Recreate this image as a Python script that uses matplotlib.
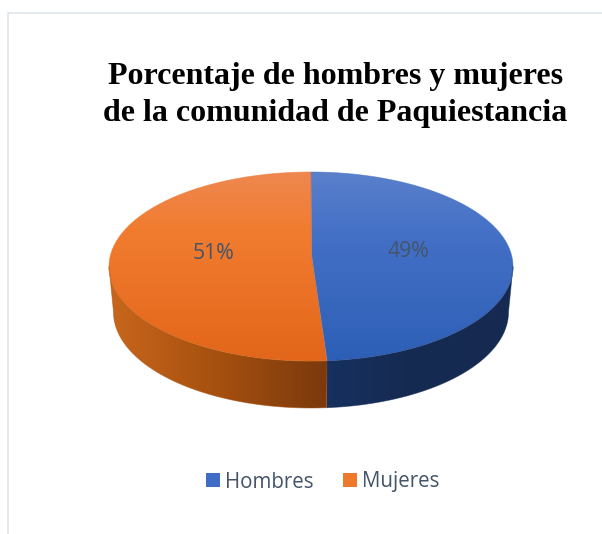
import numpy as np
from matplotlib import pyplot as plt
from matplotlib.colors import LinearSegmentedColormap
from matplotlib.patches import Patch, Polygon
from matplotlib.lines import Line2D

categories = ['Hombres', 'Mujeres']
values = [49, 51]
labels = ['49%', '51%']
title = 'Porcentaje de hombres y mujeres\nde la comunidad de Paquiestancia'

legend_colors = ['#3f6cc4', '#f0782d']
top_stops = [[(0, '#5a80ca'), (0.3, '#4571c7'), (1, '#2d5fb6')],
             [(0, '#ee8850'), (0.3, '#f17c30'), (1, '#e3661a')]]
side_stops = [[(0, '#16305f'), (0.5, '#152a50'), (1, '#172b52')],
              [(0, '#c9661c'), (0.5, '#a5500f'), (1, '#7b390c')]]
text_color = '#44546a'

# pixel geometry of the pie, y goes down
cx, cy, rx, ry = 311, 266.5, 202, 94.5
bx, by, brx, bry = 311, 312, 197.5, 96
apex = (311.5, 255)
skew = -0.94  # the picture has some perspective, the split sits a little off


def arc(a0, a1, x0, y0, w, h):
    # angles in degrees, clockwise from the top
    t = np.radians(np.linspace(a0, a1, 200))
    return np.column_stack([x0 + w * np.sin(t), y0 - h * np.cos(t)])


def gradient(ax, poly, stops, vertical=True):
    box = poly.min(axis=0), poly.max(axis=0)
    cmap = LinearSegmentedColormap.from_list('g', stops)
    g = np.linspace(0, 1, 256)
    g = g.reshape(-1, 1) if vertical else g.reshape(1, -1)
    patch = Polygon(poly, closed=True, fc='none', ec='none')
    ax.add_patch(patch)
    im = ax.imshow(g, cmap=cmap, aspect='auto', origin='upper', zorder=2,
                   extent=(box[0][0], box[1][0], box[1][1], box[0][1]))
    im.set_clip_path(patch)
    # thin edge to smooth the clipped border
    ax.add_patch(Polygon(poly, closed=True, fc='none', ec=stops[1][1], lw=0.6,
                         alpha=0.55, zorder=3))


fig = plt.figure(figsize=(6.02, 5.34), dpi=100)
ax = fig.add_axes([0, 0, 1, 1])

split = values[0] / sum(values) * 360 + skew

# sides
seam_top = arc(split, split, cx, cy, rx, ry)[0]
right = np.vstack([arc(90, split, cx, cy, rx, ry), [[seam_top[0], by + bry * 0.998]],
                   arc(split, 90, bx, by, brx, bry)])
left = np.vstack([arc(split, 270, cx, cy, rx, ry), arc(270, split, bx, by, brx, bry)])
gradient(ax, right, side_stops[0], vertical=False)
gradient(ax, left, side_stops[1], vertical=False)

# top faces
hom = np.vstack([[apex], arc(0, split, cx, cy, rx, ry)])
muj = np.vstack([[apex], arc(split, 360, cx, cy, rx, ry)])
gradient(ax, hom, top_stops[0])
gradient(ax, muj, top_stops[1])

ax.text(408.5, 251.5, labels[0], ha='center', va='center', fontsize=15.3,
        color=text_color, family='Open Sans', zorder=5)
ax.text(214, 253.5, labels[1], ha='center', va='center', fontsize=15.3,
        color=text_color, family='Open Sans', zorder=5)

ax.text(335.5, 95, title, ha='center', va='center', fontsize=23, weight='bold',
        family='Liberation Serif', color='black', linespacing=1.34, zorder=5)

# page border
ax.add_line(Line2D([8, 8, 602], [534, 13, 13], color='#dfe5ea', lw=1.2, zorder=1))

handles = [Patch(fc=c, ec='none') for c in legend_colors]
leg = ax.legend(handles, categories, ncol=2, loc='center', bbox_to_anchor=(322.8, 481.5),
                bbox_transform=ax.transData, frameon=False,
                labelcolor=text_color, prop={'family': 'Open Sans', 'size': 14.8},
                handlelength=0.68, handleheight=0.68, handletextpad=0.25, columnspacing=1.45)
leg.get_texts()[0].set_y(-0.5)

ax.set_xlim(0, 602)
ax.set_ylim(534, 0)
ax.axis('off')

fig.savefig('out.png', dpi=100)
